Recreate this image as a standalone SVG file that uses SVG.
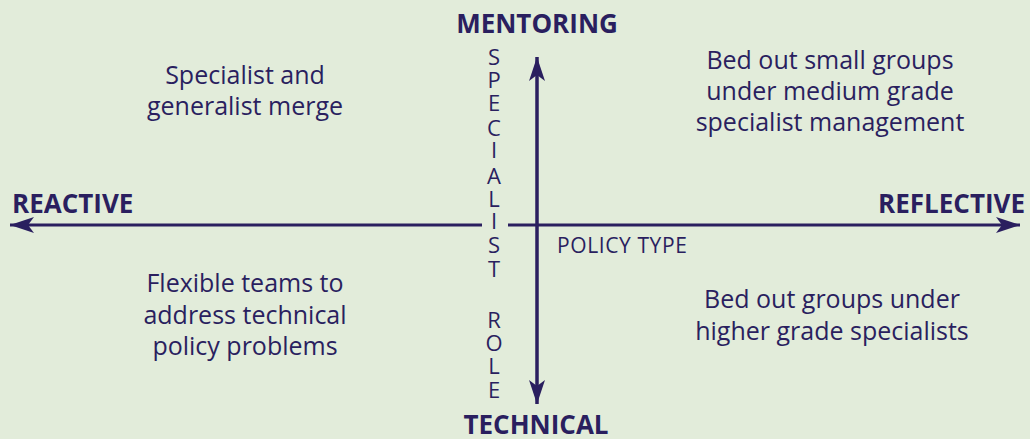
<svg xmlns="http://www.w3.org/2000/svg" width="1030" height="439" viewBox="0 0 1030 439">
<defs>
<style>
text{font-family:"Open Sans","Noto Sans","Liberation Sans",sans-serif;fill:#2a1f5f}
.q{font-size:25px;text-anchor:middle}
.b{font-size:26px;font-weight:bold}
.v{font-size:22px;text-anchor:middle}
.ax{stroke:#2a1f5f;stroke-width:3;fill:none}
</style>
<marker id="ah" markerUnits="userSpaceOnUse" markerWidth="30" markerHeight="20" viewBox="-26 -10 28 20" refX="0" refY="0" orient="auto">
<path d="M0,0 L-24,-8 L-18,0 L-24,8 Z" fill="#2a1f5f"/>
</marker>
<marker id="ahs" markerUnits="userSpaceOnUse" markerWidth="30" markerHeight="20" viewBox="-26 -10 28 20" refX="0" refY="0" orient="auto-start-reverse">
<path d="M0,0 L-24,-8 L-18,0 L-24,8 Z" fill="#2a1f5f"/>
</marker>
</defs>
<rect width="1030" height="439" fill="#e2ecda"/>
<g id="connectors">
<line class="ax" x1="10" y1="225" x2="482" y2="225" marker-start="url(#ahs)"/>
<line class="ax" x1="508" y1="225" x2="1020" y2="225" marker-end="url(#ah)"/>
<line class="ax" x1="537" y1="404" x2="537" y2="57" marker-end="url(#ah)"/>
<line class="ax" x1="537" y1="57" x2="537" y2="404" marker-end="url(#ah)"/>
</g>
<g id="axis-labels">
<text id="mentoring" class="b" x="537" y="33" text-anchor="middle">MENTORING</text>
<text id="technical" class="b" x="536" y="434" text-anchor="middle">TECHNICAL</text>
<text id="reactive" class="b" x="12" y="213">REACTIVE</text>
<text id="reflective" class="b" x="1025" y="213" text-anchor="end">REFLECTIVE</text>
<text id="policy-type" x="557" y="253" font-size="21" letter-spacing="0.6">POLICY TYPE</text>
</g>
<g id="specialist-role">
<text class="v" x="494" y="65">S</text>
<text class="v" x="494" y="88">P</text>
<text class="v" x="494" y="111">E</text>
<text class="v" x="494" y="136">C</text>
<text class="v" x="494" y="158">I</text>
<text class="v" x="494" y="184">A</text>
<text class="v" x="494" y="207">L</text>
<text class="v" x="494" y="229">I</text>
<text class="v" x="494" y="253">S</text>
<text class="v" x="494" y="277">T</text>
<text class="v" x="494" y="328">R</text>
<text class="v" x="494" y="351">O</text>
<text class="v" x="494" y="374">L</text>
<text class="v" x="494" y="398">E</text>
</g>
<g id="q-top-left">
<text class="q" x="245" y="84">Specialist and</text>
<text class="q" x="245" y="115">generalist merge</text>
</g>
<g id="q-top-right">
<text class="q" x="830" y="69">Bed out small groups</text>
<text class="q" x="830" y="100">under medium grade</text>
<text class="q" x="830" y="131">specialist management</text>
</g>
<g id="q-bottom-left">
<text class="q" x="245" y="292">Flexible teams to</text>
<text class="q" x="245" y="324">address technical</text>
<text class="q" x="245" y="355">policy problems</text>
</g>
<g id="q-bottom-right">
<text class="q" x="832" y="308">Bed out groups under</text>
<text class="q" x="832" y="340">higher grade specialists</text>
</g>
</svg>
